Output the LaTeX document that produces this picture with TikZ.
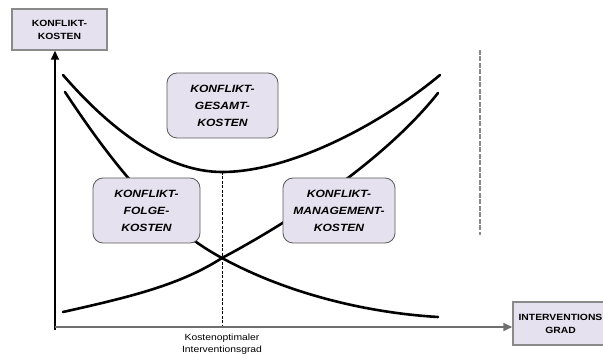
\documentclass[tikz,border=0pt]{standalone}
\usepackage{fontspec}
\setmainfont{Liberation Sans}[FakeStretch=1.15]
\usetikzlibrary{arrows.meta}
\definecolor{lila}{HTML}{E6E1EE}
\definecolor{rahmen}{HTML}{8A8A8A}
\tikzset{
  achsbox/.style={draw=rahmen,line width=1.5pt,fill=lila,align=center,
    inner sep=0pt,font=\bfseries\fontsize{9}{13}\selectfont},
  kostbox/.style={draw=black!65,line width=0.8pt,fill=lila,align=center,
    rounded corners=10pt,inner sep=0pt,minimum height=65pt,
    font=\bfseries\itshape\fontsize{10.5}{17}\selectfont},
  kurve/.style={line width=2.6pt,line cap=round},
  pfeil/.style={line width=2pt,-{Triangle[length=9pt,width=8pt]}}
}
\begin{document}
\begin{tikzpicture}[x=1pt,y=-1pt]
\useasboundingbox (0,0) rectangle (603,363);
\coordinate (O) at (55,327);
\coordinate (opt) at (222,172);
\draw[kurve] (63,75) .. controls (115,135) and (170,172) .. (opt)
  .. controls (290,172) and (380,125) .. (440,75);
\draw[kurve] (65,92) .. controls (110,160) and (160,225) .. (222,258)
  .. controls (290,295) and (370,313) .. (438,317);
\draw[kurve] (63,312) .. controls (130,297) and (180,285) .. (222,258)
  .. controls (290,222) and (385,160) .. (438,93);
\draw[line width=1pt,dash pattern=on 3pt off 1.5pt] (opt) -- (opt |- O);
\draw[rahmen,line width=1.2pt,dash pattern=on 5pt off 1.5pt] (480,50) -- (480,235);
\node[achsbox,minimum width=95pt,minimum height=41pt] (ylab) at (59.5,29.5)
  {KONFLIKT-\\KOSTEN};
\node[achsbox,minimum width=95pt,minimum height=43pt] (xlab) at (560.5,323.5)
  {INTERVENTIONS\\GRAD};
\node[kostbox,minimum width=111pt] (gesamt) at (222.5,105.5)
  {KONFLIKT-\\GESAMT-\\KOSTEN};
\node[kostbox,minimum width=107pt] (folge) at (146.5,210.5)
  {KONFLIKT-\\FOLGE-\\KOSTEN};
\node[kostbox,minimum width=112pt] (mgmt) at (339,210.5)
  {KONFLIKT-\\MANAGEMENT-\\KOSTEN};
\draw[pfeil] (55,330) -- (ylab.south -| O);
\draw[pfeil,draw=rahmen!80!black] (O) -- (xlab.west |- O);
\node[below,align=center,font=\fontsize{9}{12}\selectfont,yshift=-3pt]
  (kopt) at (opt |- O) {Kostenoptimaler\\Interventionsgrad};
\end{tikzpicture}
\end{document}
